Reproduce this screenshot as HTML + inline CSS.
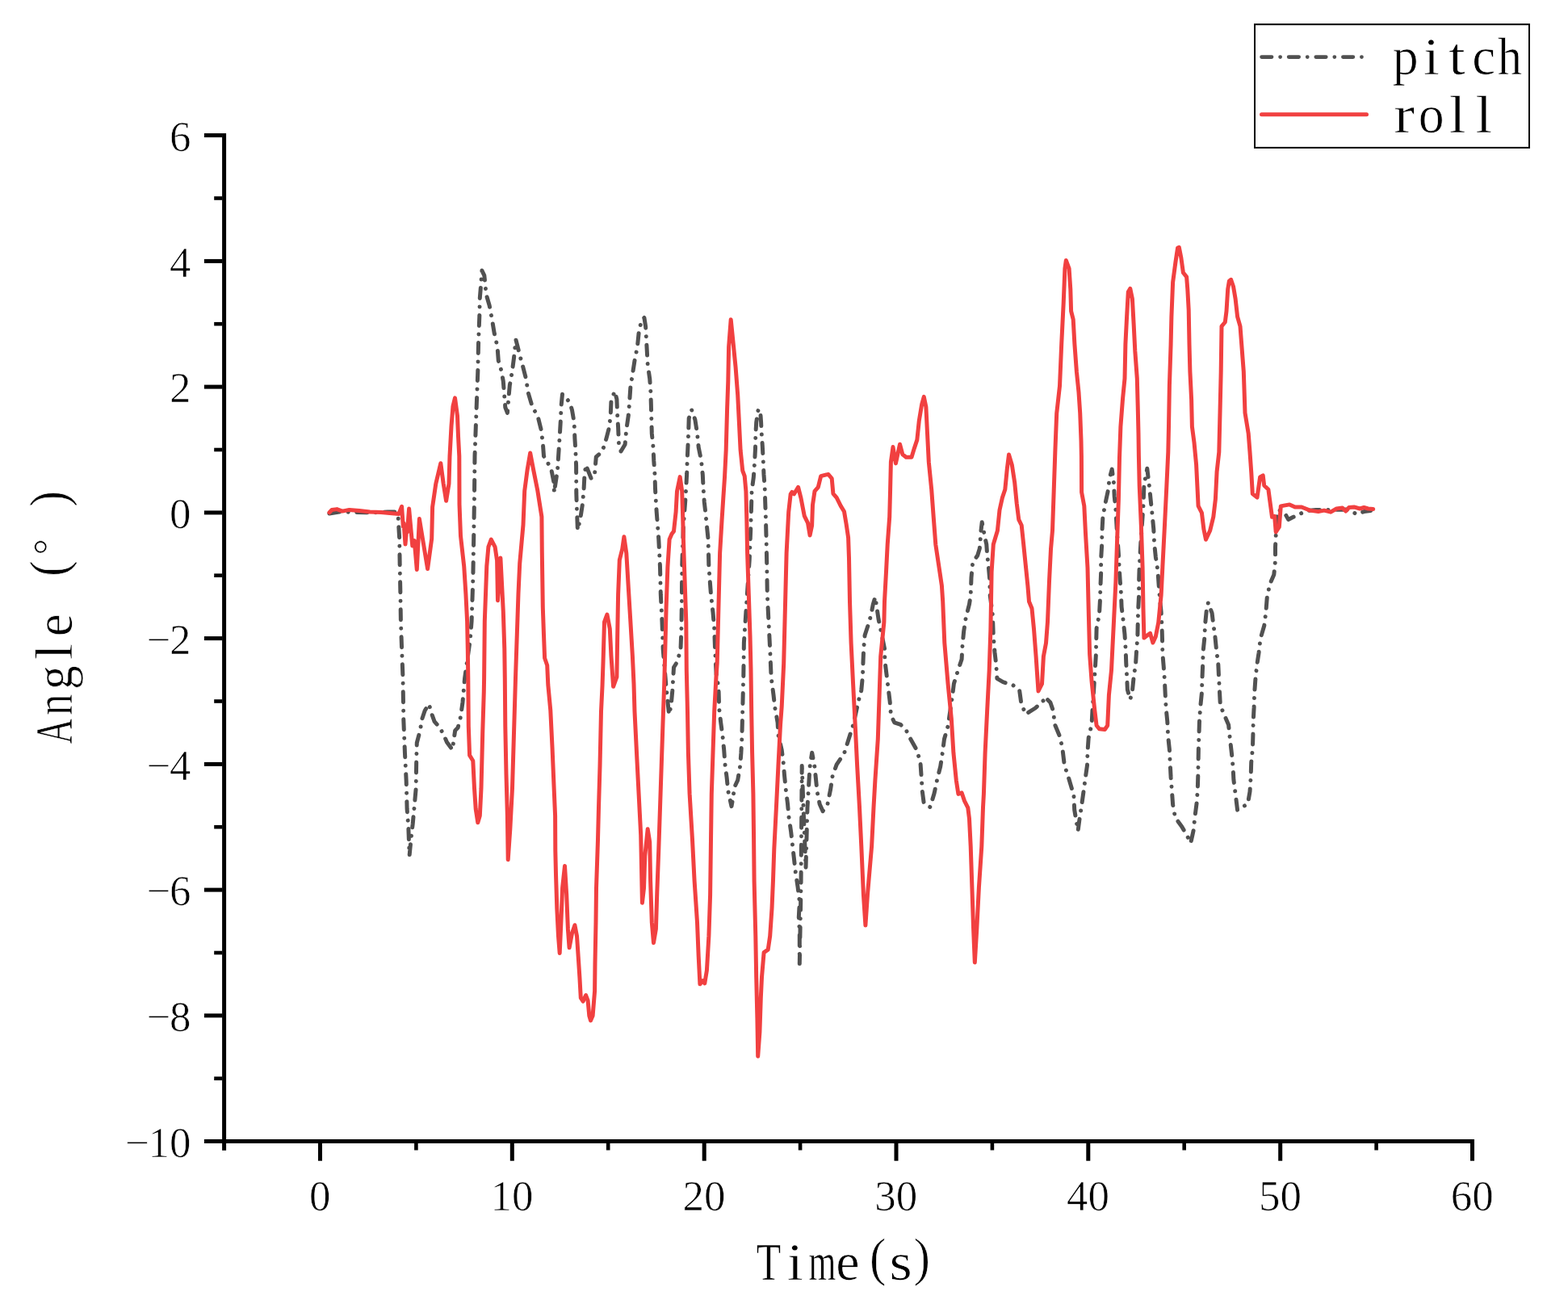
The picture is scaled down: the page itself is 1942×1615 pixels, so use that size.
<!DOCTYPE html>
<html lang="en"><head><meta charset="utf-8"><title>pitch and roll angle</title>
<style>html,body{margin:0;padding:0;background:#fff}svg{display:block}text{font-family:"Liberation Serif","Noto Serif CJK SC",serif;fill:#000;stroke:#fff;stroke-width:0.7px;stroke-linejoin:round}</style>
</head><body>
<svg width="1942" height="1615" viewBox="0 0 1942 1615" role="img" aria-label="Line chart of pitch and roll angle versus time">
<rect width="1942" height="1615" fill="#fff"/>
<polyline fill="none" stroke="#515151" stroke-width="5" stroke-linejoin="round" stroke-linecap="round" stroke-dasharray="13 10.5 0.01 10.5" points="407.9,636.0 420.0,634.0 440.0,634.5 460.0,635.0 480.0,634.0 490.0,634.0 493.0,638.2 494.7,667.2 495.2,701.2 495.9,735.3 496.4,769.3 497.6,803.4 499.0,840.0 499.8,891.1 501.5,933.6 503.2,967.7 504.1,1001.8 505.8,1023.9 507.1,1059.6 509.2,1037.5 511.2,1020.5 512.9,1001.8 515.2,976.2 515.7,942.2 516.3,920.0 520.3,904.7 522.8,890.2 526.2,880.0 531.3,872.0 534.7,884.3 538.1,893.6 544.9,901.3 550.1,911.5 553.5,919.2 560.3,928.5 562.0,916.6 563.7,904.7 567.1,901.3 570.5,887.7 573.0,869.8 574.7,850.2 575.6,840.0 582.4,791.5 584.1,769.3 585.8,718.2 586.7,667.2 587.5,616.1 588.0,565.0 590.1,506.2 591.8,460.3 592.6,422.8 593.8,392.2 594.3,369.2 595.5,354.7 596.9,335.1 599.8,341.1 601.1,353.0 602.0,364.1 606.2,378.5 609.6,396.8 612.2,412.6 616.0,429.3 617.3,446.6 621.0,459.4 623.3,472.2 624.5,488.1 625.8,504.5 628.4,511.4 630.1,490.9 631.3,477.3 634.3,460.3 636.4,444.1 638.9,420.8 641.2,429.6 643.7,439.8 647.5,453.5 651.4,468.8 654.4,487.2 659.0,502.8 666.3,516.5 670.1,531.8 672.3,548.5 673.5,565.0 677.8,571.8 682.9,582.0 686.3,599.1 686.3,610.1 690.5,582.0 691.6,565.0 693.1,542.0 694.3,521.6 695.1,502.8 696.5,488.0 702.4,494.3 706.0,499.4 708.5,507.9 711.1,523.2 711.9,542.8 712.8,557.3 713.6,576.9 713.8,610.9 714.5,632.2 715.4,656.5 718.7,642.6 721.3,625.5 723.0,607.7 723.8,591.4 725.5,575.7 732.4,593.1 736.6,586.2 738.3,565.8 744.3,560.7 748.5,552.2 751.9,539.4 754.5,529.2 756.2,514.7 757.0,496.0 761.3,484.6 763.9,494.3 764.7,514.7 765.6,529.2 766.4,548.8 769.0,559.0 774.1,550.5 775.8,531.8 778.3,514.7 779.7,496.9 780.9,479.0 783.4,463.7 786.0,446.6 789.4,429.6 791.1,412.6 794.5,396.4 797.9,393.5 799.6,404.1 801.3,434.7 802.2,451.7 804.7,468.8 805.9,485.8 806.4,502.8 807.3,536.9 809.0,553.9 809.8,570.9 811.0,587.9 811.5,605.0 812.4,622.0 813.2,634.1 815.8,668.1 817.5,702.2 818.3,736.2 820.0,770.3 821.2,804.3 822.6,821.3 825.0,850.0 828.6,885.0 831.1,874.3 832.8,855.5 833.7,840.2 834.5,826.5 838.8,819.6 843.0,804.3 843.9,778.8 844.4,744.7 844.7,702.2 846.4,651.1 849.0,617.0 850.7,586.2 851.2,569.2 852.0,552.2 852.7,535.2 853.2,518.1 856.6,507.6 860.9,519.8 863.5,536.9 865.2,553.9 868.6,570.9 870.3,587.9 871.1,605.0 872.3,622.0 873.7,634.1 877.1,668.1 877.9,702.2 880.5,736.2 883.0,758.4 884.7,778.8 885.6,804.3 887.3,838.4 889.9,850.0 890.7,877.7 892.7,894.7 895.0,911.7 896.7,928.8 897.9,945.8 900.1,962.8 901.8,979.8 906.0,998.6 908.1,986.7 909.4,975.6 913.7,966.2 916.6,949.2 917.9,932.2 918.8,915.1 919.7,881.1 920.5,847.0 920.8,838.4 921.4,795.8 923.1,770.3 924.8,744.7 928.2,693.6 929.9,651.1 931.1,607.5 933.3,591.4 934.6,572.6 935.5,555.6 935.8,538.6 936.7,523.2 939.2,506.7 941.8,511.3 942.6,523.2 943.1,535.2 944.3,552.2 945.2,569.2 946.0,587.9 947.2,604.1 947.7,621.1 948.3,638.2 949.1,668.1 949.8,702.2 950.3,736.2 952.0,770.3 953.7,804.3 955.1,838.4 958.0,860.6 959.7,876.0 963.1,894.7 963.9,910.0 968.2,928.8 970.2,944.1 971.6,961.1 973.3,978.1 975.5,995.2 976.9,1011.3 979.7,1030.5 981.5,1046.5 983.5,1064.0 985.3,1080.4 988.0,1098.0 990.3,1116.8 989.3,1136.0 990.3,1155.2 990.3,1193.6 992.0,1100.0 993.2,948.5 995.0,1000.0 998.0,1075.0 1000.0,1000.0 1003.0,950.0 1005.7,932.2 1009.0,950.0 1012.0,980.0 1015.2,996.0 1019.1,1004.6 1025.1,995.3 1028.5,978.3 1031.1,961.2 1036.2,946.8 1045.5,933.2 1050.6,917.0 1056.6,898.2 1063.4,867.6 1066.8,854.8 1068.5,836.9 1069.0,819.9 1069.7,802.9 1071.1,786.7 1075.3,773.9 1078.7,762.0 1081.3,748.4 1084.0,739.5 1085.6,750.1 1088.1,767.1 1091.5,783.3 1095.8,804.6 1095.8,817.4 1098.0,835.2 1100.0,851.4 1102.2,869.3 1103.4,885.5 1107.7,894.8 1115.4,897.4 1122.2,904.2 1127.3,914.4 1135.8,929.7 1140.0,945.1 1141.2,962.9 1142.3,980.0 1144.3,995.3 1152.0,999.6 1157.1,982.5 1160.5,966.3 1164.7,949.3 1167.3,932.3 1169.5,915.3 1174.1,899.1 1179.2,864.2 1181.4,846.8 1186.0,831.8 1191.1,816.5 1192.0,799.5 1193.7,781.6 1196.2,765.4 1200.5,748.4 1202.2,737.3 1203.0,715.2 1204.7,696.5 1210.7,688.0 1213.3,679.4 1214.1,669.2 1215.0,657.3 1216.2,646.7 1219.2,662.4 1221.8,674.3 1222.6,686.3 1224.3,701.6 1226.0,720.3 1226.0,735.6 1229.4,762.0 1230.3,787.6 1232.0,808.0 1233.7,822.5 1234.9,840.4 1242.2,844.6 1255.0,848.9 1262.6,854.8 1264.8,871.0 1270.3,884.6 1282.2,877.0 1292.4,867.6 1294.1,863.0 1300.9,870.1 1304.7,881.2 1306.1,896.5 1313.2,913.6 1316.3,930.6 1318.3,947.6 1323.9,964.7 1329.9,985.0 1330.7,1003.0 1335.1,1029.0 1336.8,1016.0 1339.4,999.0 1341.9,981.1 1344.1,964.9 1346.5,947.9 1347.0,930.9 1348.2,913.9 1352.1,896.8 1353.0,879.8 1353.9,866.2 1356.4,827.0 1357.3,812.2 1358.1,778.2 1361.5,761.1 1362.4,744.1 1362.9,727.1 1363.6,710.1 1363.6,693.0 1364.6,676.0 1364.9,659.0 1365.8,641.9 1368.3,626.6 1372.1,608.7 1374.3,591.7 1377.2,581.1 1379.4,597.7 1380.2,614.7 1381.9,631.7 1383.5,660.0 1385.4,686.2 1386.2,703.2 1387.1,717.7 1388.4,733.9 1389.1,751.8 1391.3,769.6 1393.0,785.8 1394.2,805.4 1394.7,820.2 1395.6,837.2 1396.4,854.3 1399.8,866.2 1402.4,856.0 1404.1,838.9 1406.6,821.9 1407.5,807.1 1408.9,788.4 1409.2,773.1 1409.7,754.3 1410.6,737.3 1410.6,720.3 1411.2,701.5 1413.0,670.0 1416.0,626.6 1416.9,601.1 1419.4,587.5 1420.8,580.3 1423.7,604.5 1425.4,621.5 1427.1,637.7 1428.8,655.6 1429.6,672.6 1431.3,689.6 1433.9,706.3 1435.1,723.7 1436.4,740.7 1438.1,757.7 1439.0,774.8 1439.5,791.8 1439.8,808.8 1441.2,825.3 1442.4,842.4 1443.2,859.4 1444.1,876.4 1445.8,893.4 1446.6,911.3 1448.4,928.3 1449.2,945.4 1450.1,962.4 1451.4,979.4 1452.6,996.4 1455.5,1012.6 1463.7,1023.7 1470.5,1035.6 1474.7,1044.1 1478.1,1028.8 1479.9,1011.8 1482.1,994.7 1483.3,977.7 1483.8,960.7 1484.1,943.7 1484.4,926.6 1485.0,909.6 1485.5,892.6 1486.7,875.6 1488.4,858.5 1488.9,841.5 1489.6,824.5 1490.1,807.1 1491.8,790.1 1492.6,773.1 1494.3,756.0 1496.4,746.3 1501.1,759.4 1502.5,771.3 1504.9,788.4 1506.6,805.4 1508.8,822.4 1509.6,839.8 1510.5,856.8 1511.4,873.9 1516.5,885.8 1521.6,897.7 1523.3,914.7 1525.3,931.7 1527.0,948.8 1527.9,965.8 1530.1,982.8 1532.6,1003.3 1538.0,1000.0 1545.4,995.6 1548.0,980.3 1549.2,961.5 1549.7,944.5 1551.4,927.5 1551.9,910.5 1552.2,893.4 1553.1,876.4 1553.6,859.4 1554.8,842.4 1556.5,825.3 1559.0,808.8 1561.1,790.9 1565.8,774.8 1567.9,757.7 1569.2,740.7 1572.6,723.7 1577.8,711.8 1579.5,694.7 1579.5,677.7 1580.3,660.7 1581.0,645.0 1583.3,631.5 1590.5,634.2 1595.6,643.4 1601.8,640.3 1612.1,635.5 1618.3,632.5 1630.0,631.5 1650.0,631.5 1668.0,631.0 1675.0,634.0 1680.1,636.7 1689.3,633.6 1697.6,632.6"/>
<polyline fill="none" stroke="#f14040" stroke-width="5" stroke-linejoin="round" stroke-linecap="round" points="407.9,634.8 411.0,631.5 417.2,630.6 424.0,633.1 432.6,631.4 445.0,632.5 458.1,634.0 472.0,634.5 485.4,635.7 493.9,636.5 497.6,627.3 499.3,652.0 500.1,648.0 502.0,674.0 503.6,656.0 504.4,659.0 506.6,629.9 510.8,676.0 513.2,669.5 516.3,705.5 519.4,642.6 529.6,704.6 534.7,667.2 535.6,628.0 539.8,599.1 545.8,573.7 549.2,599.1 552.6,620.3 556.0,599.1 557.0,565.0 559.0,528.0 561.0,503.0 563.5,492.9 566.5,515.0 567.5,540.0 568.8,565.0 569.0,624.6 570.5,663.8 574.7,701.2 576.9,735.3 578.6,769.3 579.3,803.4 579.8,840.0 580.3,899.6 581.6,935.4 585.8,942.2 587.5,976.2 589.2,1001.8 591.8,1018.8 594.3,1010.3 596.0,976.2 597.7,908.1 599.3,857.0 599.6,840.0 600.3,769.3 602.8,701.2 604.9,677.4 608.3,668.2 613.1,677.4 615.6,694.4 616.5,743.8 619.9,691.1 623.3,757.4 624.8,803.4 625.3,840.0 625.8,899.6 627.0,959.2 628.4,1010.3 629.2,1064.8 631.8,1027.0 634.5,976.0 636.5,908.0 638.5,840.0 640.3,786.0 642.0,735.0 643.7,698.0 648.0,650.0 649.7,608.0 653.1,582.0 656.7,561.0 660.7,582.0 665.8,607.6 670.9,640.0 671.3,684.2 671.8,718.2 672.3,752.3 673.5,786.4 674.6,815.0 677.7,824.0 678.8,848.0 681.8,880.0 684.0,925.1 686.0,973.0 687.6,1010.3 687.8,1052.9 688.5,1082.6 689.8,1125.1 691.5,1159.2 693.2,1180.5 694.9,1142.2 696.6,1099.6 699.5,1072.5 701.7,1108.1 703.4,1150.7 705.1,1173.7 708.5,1155.8 711.9,1145.7 714.5,1159.2 716.2,1184.7 717.9,1210.3 719.3,1235.8 722.1,1240.1 725.6,1232.6 728.1,1239.2 729.8,1258.0 731.5,1263.9 734.1,1258.0 736.6,1227.3 737.0,1193.0 738.0,1142.0 738.5,1100.0 740.5,1040.0 741.5,1000.0 743.0,949.0 744.5,881.0 746.0,850.0 747.0,821.0 748.5,770.3 751.9,761.0 755.3,778.8 757.0,812.8 759.6,850.3 763.9,838.4 764.7,787.3 765.6,736.2 767.3,693.6 770.7,680.0 772.9,664.8 775.8,685.1 778.3,727.7 780.9,770.3 783.4,812.8 785.0,846.9 786.0,881.1 788.5,932.2 791.1,983.2 793.7,1034.3 794.5,1074.0 795.4,1118.3 797.5,1100.0 798.8,1059.9 802.2,1026.8 804.7,1042.8 805.6,1091.1 807.3,1142.2 809.5,1167.7 812.4,1150.7 813.8,1105.0 815.8,1051.3 817.5,1000.3 819.2,949.2 820.9,898.1 822.6,850.0 823.4,821.3 825.1,753.2 826.9,702.2 829.1,668.1 832.0,661.3 834.5,657.9 837.1,634.1 838.5,608.5 842.2,590.6 844.7,608.4 845.5,634.1 846.4,668.1 848.1,719.2 849.8,770.3 850.3,830.0 851.5,881.1 852.4,932.2 854.1,983.2 857.5,1040.0 860.1,1091.1 863.5,1142.2 865.2,1184.7 866.9,1218.8 870.3,1214.7 872.8,1217.9 875.4,1201.8 877.9,1159.2 879.6,1108.1 880.5,1040.0 881.3,983.2 883.0,932.2 884.7,881.1 887.0,838.0 888.2,821.3 889.9,753.2 891.6,685.1 894.0,645.0 895.8,616.9 897.5,591.4 899.2,557.3 900.6,506.2 901.8,472.2 902.6,429.6 905.2,395.7 908.6,429.6 911.1,455.1 913.7,489.2 915.4,523.2 917.1,557.3 919.7,582.8 922.2,589.6 923.9,608.4 924.8,642.6 925.6,685.1 927.3,736.2 929.0,787.3 930.0,830.0 930.7,881.1 931.6,932.2 932.9,983.2 933.6,1040.0 934.1,1091.1 935.8,1159.2 936.7,1210.3 937.9,1261.4 938.7,1308.2 940.9,1278.4 942.3,1235.8 943.5,1210.3 946.1,1179.6 951.2,1176.2 953.7,1159.2 956.0,1125.1 957.5,1090.0 958.8,1051.3 961.4,1000.3 963.9,949.2 966.5,898.1 968.2,875.0 970.7,821.3 972.4,753.2 974.1,685.1 976.7,634.1 979.2,611.9 980.9,609.4 983.5,611.8 988.6,603.4 992.0,616.9 994.6,630.5 996.3,639.2 1000.5,647.7 1003.1,663.0 1005.6,651.1 1006.5,625.4 1009.0,608.4 1013.3,603.3 1016.7,589.6 1023.5,587.9 1026.0,587.5 1030.2,592.6 1031.9,611.3 1036.2,616.4 1041.3,626.6 1045.5,633.5 1048.1,648.8 1050.6,665.8 1051.5,691.4 1052.5,745.0 1054.1,796.1 1056.6,847.2 1059.2,898.2 1061.7,949.3 1064.5,1000.0 1066.8,1048.1 1069.4,1107.7 1071.9,1146.0 1074.5,1107.7 1079.6,1048.1 1082.0,1000.0 1083.9,966.3 1087.3,915.3 1089.0,864.2 1090.7,813.1 1094.9,770.5 1095.5,745.0 1097.5,708.4 1099.2,674.3 1101.7,640.3 1102.6,606.2 1103.4,572.2 1106.0,553.6 1109.4,573.9 1114.5,550.2 1117.9,562.8 1122.2,566.2 1129.0,566.2 1132.4,555.1 1135.8,544.9 1138.3,521.1 1141.7,500.6 1144.3,491.4 1146.9,504.1 1148.6,538.1 1150.3,572.2 1153.7,606.2 1156.2,640.3 1158.8,674.3 1163.9,708.4 1166.4,725.4 1167.7,745.0 1169.8,796.1 1174.1,847.2 1178.3,889.7 1180.9,932.3 1184.3,966.3 1186.9,983.4 1191.1,981.8 1194.5,991.9 1198.8,1000.4 1200.5,1014.0 1202.2,1048.1 1203.9,1099.2 1205.6,1150.3 1207.3,1192.0 1209.8,1150.3 1212.4,1099.2 1215.8,1048.1 1217.5,1000.0 1218.4,983.4 1220.1,932.3 1222.6,881.2 1225.2,830.1 1226.9,779.1 1227.5,745.0 1228.1,708.4 1230.3,674.3 1235.4,657.3 1238.0,631.8 1241.4,616.4 1244.8,606.2 1247.3,580.7 1249.5,563.0 1253.3,575.6 1256.7,597.7 1259.2,623.3 1261.8,643.7 1265.2,650.5 1267.7,674.3 1270.3,699.9 1272.9,725.4 1274.5,745.0 1278.0,753.5 1280.5,779.1 1283.1,813.1 1286.0,856.0 1290.5,847.0 1292.4,813.0 1295.5,796.5 1297.5,770.0 1298.5,745.0 1299.5,720.0 1301.5,680.0 1303.5,657.0 1305.2,608.0 1307.0,555.0 1308.7,512.0 1312.5,478.0 1314.7,426.2 1317.2,375.1 1318.9,332.6 1320.3,322.5 1324.1,332.6 1325.8,358.1 1326.6,385.4 1329.2,395.6 1330.9,426.2 1333.4,460.3 1336.0,485.8 1337.7,511.4 1339.0,545.4 1339.4,565.0 1339.6,609.6 1342.8,626.6 1344.5,660.7 1347.0,703.2 1348.2,754.3 1349.6,810.0 1352.1,844.1 1355.6,878.1 1358.1,898.5 1361.5,902.8 1368.3,903.6 1371.7,898.5 1373.4,861.1 1376.5,830.0 1379.4,771.3 1381.9,720.3 1383.6,669.2 1385.4,618.1 1386.5,567.0 1387.9,528.4 1390.5,494.3 1393.0,468.8 1393.9,426.2 1395.6,392.2 1397.3,361.5 1399.8,357.4 1402.4,370.0 1404.1,400.7 1405.8,434.7 1408.3,468.8 1409.2,502.8 1410.0,536.9 1410.4,565.0 1411.2,601.1 1413.4,652.2 1415.1,703.2 1416.0,754.3 1416.9,790.1 1421.1,786.7 1424.5,784.3 1427.9,796.0 1431.3,788.4 1434.7,771.3 1438.1,737.3 1439.8,703.2 1442.4,652.2 1444.9,601.1 1446.8,560.0 1447.5,528.4 1448.4,477.3 1450.1,426.2 1450.9,392.2 1452.6,349.6 1456.0,324.1 1458.6,307.0 1460.3,306.3 1462.8,318.9 1465.4,337.7 1469.6,342.8 1470.8,358.1 1472.2,383.7 1473.0,426.2 1473.9,460.3 1475.6,494.3 1476.4,528.4 1479.0,548.0 1481.6,575.5 1484.1,626.6 1488.4,635.1 1490.9,655.6 1493.5,668.3 1498.6,657.3 1502.8,640.2 1505.4,618.1 1507.1,584.1 1509.8,560.0 1511.0,511.4 1512.2,460.3 1513.0,404.1 1517.3,399.0 1519.0,385.4 1520.7,358.1 1522.4,347.9 1524.6,346.3 1527.5,354.7 1530.1,370.0 1532.6,392.2 1536.0,404.1 1537.7,426.2 1540.3,460.3 1542.0,511.4 1546.2,536.9 1548.0,560.0 1549.8,585.7 1551.3,611.5 1557.0,616.1 1560.6,590.9 1564.2,588.8 1565.7,601.2 1570.9,606.3 1573.0,621.8 1575.5,640.3 1578.6,639.3 1580.2,658.9 1584.3,652.7 1586.3,626.9 1591.5,625.9 1597.2,624.9 1603.9,628.0 1612.1,628.0 1622.4,632.1 1632.7,633.6 1639.9,632.1 1648.1,634.2 1655.3,630.0 1662.6,629.0 1666.7,633.1 1670.8,628.5 1677.0,627.9 1684.2,630.0 1689.3,628.5 1694.5,630.0 1700.7,630.5"/>
<g fill="#000">
<rect x="275.1" y="165.1" width="5" height="1259.7"/>
<rect x="252.9" y="1411.0" width="1573.1" height="5"/>
<rect x="265.2" y="1333.4" width="10" height="4.6"/>
<rect x="252.9" y="1255.3" width="22.5" height="5"/>
<rect x="265.2" y="1177.7" width="10" height="4.6"/>
<rect x="252.9" y="1099.6" width="22.5" height="5"/>
<rect x="265.2" y="1021.9" width="10" height="4.6"/>
<rect x="252.9" y="943.9" width="22.5" height="5"/>
<rect x="265.2" y="866.2" width="10" height="4.6"/>
<rect x="252.9" y="788.1" width="22.5" height="5"/>
<rect x="265.2" y="710.4" width="10" height="4.6"/>
<rect x="252.9" y="632.4" width="22.5" height="5"/>
<rect x="265.2" y="554.7" width="10" height="4.6"/>
<rect x="252.9" y="476.6" width="22.5" height="5"/>
<rect x="265.2" y="398.9" width="10" height="4.6"/>
<rect x="252.9" y="320.9" width="22.5" height="5"/>
<rect x="265.2" y="243.2" width="10" height="4.6"/>
<rect x="252.9" y="165.1" width="22.5" height="5"/>
<rect x="394.0" y="1415.5" width="5" height="22.2"/>
<rect x="513.1" y="1415.5" width="4.6" height="9"/>
<rect x="631.8" y="1415.5" width="5" height="22.2"/>
<rect x="750.9" y="1415.5" width="4.6" height="9"/>
<rect x="869.7" y="1415.5" width="5" height="22.2"/>
<rect x="988.8" y="1415.5" width="4.6" height="9"/>
<rect x="1107.5" y="1415.5" width="5" height="22.2"/>
<rect x="1226.6" y="1415.5" width="4.6" height="9"/>
<rect x="1345.3" y="1415.5" width="5" height="22.2"/>
<rect x="1464.4" y="1415.5" width="4.6" height="9"/>
<rect x="1583.2" y="1415.5" width="5" height="22.2"/>
<rect x="1702.3" y="1415.5" width="4.6" height="9"/>
<rect x="1821.0" y="1415.5" width="5" height="22.2"/>
</g>
<g font-size="53">
<text x="396.3" y="1498.8" text-anchor="middle">0</text>
<text x="634.1" y="1498.8" text-anchor="middle">10</text>
<text x="872.0" y="1498.8" text-anchor="middle">20</text>
<text x="1109.8" y="1498.8" text-anchor="middle">30</text>
<text x="1347.6" y="1498.8" text-anchor="middle">40</text>
<text x="1585.5" y="1498.8" text-anchor="middle">50</text>
<text x="1823.3" y="1498.8" text-anchor="middle">60</text>
<text x="155.33 183.55 210.05" y="1432.8">−10</text>
<text x="181.83 210.05" y="1277.0">−8</text>
<text x="181.83 210.05" y="1121.3">−6</text>
<text x="181.83 210.05" y="965.6">−4</text>
<text x="181.83 210.05" y="809.8">−2</text>
<text x="210.05" y="654.1">0</text>
<text x="210.05" y="498.3">2</text>
<text x="210.05" y="342.6">4</text>
<text x="210.05" y="186.8">6</text>
</g>
<text font-size="66" y="1585.3" aria-label="Time(s)"><tspan x="936.69" textLength="30.44" lengthAdjust="spacingAndGlyphs">T</tspan><tspan x="974.84" textLength="20.17" lengthAdjust="spacingAndGlyphs">i</tspan><tspan x="1001.44" textLength="33.88" lengthAdjust="spacingAndGlyphs">m</tspan><tspan x="1035.26">e</tspan><tspan x="1076.88" y="1578.70" textLength="20.22" lengthAdjust="spacingAndGlyphs">(</tspan><tspan x="1101.40" y="1585.30" textLength="28.25" lengthAdjust="spacingAndGlyphs">s</tspan><tspan x="1131.65" y="1578.70" textLength="20.22" lengthAdjust="spacingAndGlyphs">)</tspan></text>
<text font-size="66" y="88.55" transform="rotate(-90)" aria-label="Angle (°)"><tspan x="-921.38" textLength="31.46" lengthAdjust="spacingAndGlyphs">A</tspan><tspan x="-886.01" textLength="26.40" lengthAdjust="spacingAndGlyphs">n</tspan><tspan x="-854.01" textLength="29.70" lengthAdjust="spacingAndGlyphs">g</tspan><tspan x="-817.29" textLength="20.17" lengthAdjust="spacingAndGlyphs">l</tspan><tspan x="-788.25" textLength="28.12" lengthAdjust="spacingAndGlyphs">e</tspan><tspan x="-750"> </tspan><tspan x="-714.04" y="82.35" textLength="19.78" lengthAdjust="spacingAndGlyphs">(</tspan><tspan x="-687.57" y="76.05" font-size="51">°</tspan><tspan x="-627.74" y="82.35" textLength="19.78" lengthAdjust="spacingAndGlyphs">)</tspan></text>
<rect x="1554" y="30.2" width="340" height="152.7" fill="#fff" stroke="#000" stroke-width="2"/>
<line x1="1562.6" y1="70.6" x2="1691" y2="70.6" stroke="#515151" stroke-width="4.8" stroke-linecap="round" stroke-dasharray="12.4 10.6 0.01 10.6"/>
<line x1="1562.5" y1="141.8" x2="1692.5" y2="141.8" stroke="#f14040" stroke-width="5" stroke-linecap="round"/>
<text font-size="65" y="92.05" aria-label="pitch"><tspan x="1724.81" textLength="31.85" lengthAdjust="spacingAndGlyphs">p</tspan><tspan x="1763.10" textLength="19.86" lengthAdjust="spacingAndGlyphs">i</tspan><tspan x="1793.92" textLength="20.77" lengthAdjust="spacingAndGlyphs">t</tspan><tspan x="1823.24">c</tspan><tspan x="1854.84" textLength="30.23" lengthAdjust="spacingAndGlyphs">h</tspan></text>
<text font-size="65" y="164.1" aria-label="roll"><tspan x="1726.27" textLength="25.97" lengthAdjust="spacingAndGlyphs">r</tspan><tspan x="1756.67" textLength="31.85" lengthAdjust="spacingAndGlyphs">o</tspan><tspan x="1794.77" textLength="20.77" lengthAdjust="spacingAndGlyphs">l</tspan><tspan x="1827.52" textLength="20.77" lengthAdjust="spacingAndGlyphs">l</tspan></text>
</svg></body></html>
